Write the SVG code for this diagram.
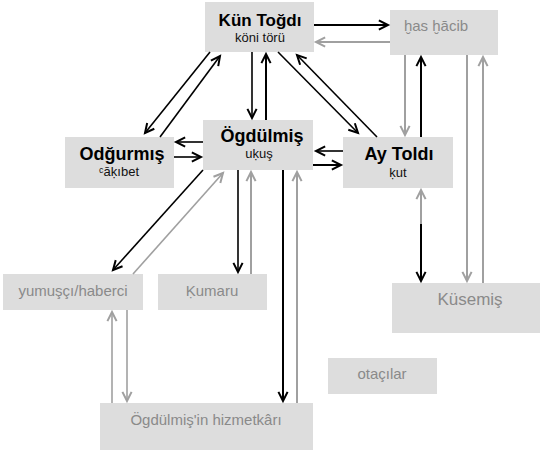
<svg xmlns="http://www.w3.org/2000/svg" width="540" height="450" viewBox="0 0 540 450">
<style>
.box{fill:#dddddd}
.t{font-family:"Liberation Sans",Arial,sans-serif;text-anchor:middle}
.b{font-weight:bold;font-size:18px;fill:#000}
.s{font-size:13px;fill:#111}
.g{font-size:15px;fill:#8a8a8a}
.k{stroke:#000;stroke-width:2;fill:none}
.gr{stroke:#a0a0a0;stroke-width:2;fill:none}
.k1{stroke:#000;stroke-width:1.6;fill:none}
.gr1{stroke:#a0a0a0;stroke-width:1.6;fill:none}
</style>
<defs>
<marker id="ak" viewBox="0 0 12 12" refX="11" refY="6" markerWidth="10" markerHeight="10" markerUnits="userSpaceOnUse" orient="auto" overflow="visible">
<path d="M0,0.5 L11,6 L0,11.5" fill="none" stroke="#000" stroke-width="2.4"/>
</marker>
<marker id="ag" viewBox="0 0 12 12" refX="11" refY="6" markerWidth="10" markerHeight="10" markerUnits="userSpaceOnUse" orient="auto" overflow="visible">
<path d="M0,0.5 L11,6 L0,11.5" fill="none" stroke="#a0a0a0" stroke-width="2.4"/>
</marker>
</defs>
<rect width="540" height="450" fill="#fff"/>
<g id="kun"><rect class="box" x="205" y="2" width="109" height="50"/><text class="t b" x="260" y="26" style="font-size:17px">Kün Toğdı</text><text class="t s" x="260" y="42">köni törü</text></g>
<g id="has"><rect class="box" x="390" y="10" width="108" height="45"/><text class="t g" x="436" y="31">ḫas ḫācib</text></g>
<g id="odg"><rect class="box" x="65" y="137" width="109" height="51"/><text class="t b" x="122" y="160">Odğurmış</text><text class="t s" x="119" y="176">ᶜāḳıbet</text></g>
<g id="ogd"><rect class="box" x="203" y="120" width="110" height="50"/><text class="t b" x="262" y="142">Ögdülmiş</text><text class="t s" x="259" y="158">uḳuş</text></g>
<g id="ay"><rect class="box" x="343" y="137" width="110" height="51"/><text class="t b" x="399" y="160">Ay Toldı</text><text class="t s" x="398" y="177">ḳut</text></g>
<g id="yum"><rect class="box" x="3" y="274" width="140" height="36"/><text class="t g" x="73" y="296">yumuşçı/haberci</text></g>
<g id="kum"><rect class="box" x="158" y="274" width="109" height="36"/><text class="t g" x="212" y="296">Ḳumaru</text></g>
<g id="kus"><rect class="box" x="392" y="283" width="148" height="50"/><text class="t g" x="470" y="305" style="font-size:17px">Küsemiş</text></g>
<g id="ota"><rect class="box" x="328" y="358" width="109" height="36"/><text class="t g" x="382" y="379">otaçılar</text></g>
<g id="hiz"><rect class="box" x="100" y="403" width="213" height="47"/><text class="t g" x="206" y="425">Ögdülmiş'in hizmetkârı</text></g>
<g id="connectors">
<line class="k" x1="314" y1="25" x2="388" y2="25" marker-end="url(#ak)"/>
<line class="gr" x1="390" y1="42" x2="316" y2="42" marker-end="url(#ag)"/>
<line class="gr" x1="405" y1="55" x2="405" y2="135" marker-end="url(#ag)"/>
<line class="k" x1="421" y1="137" x2="421" y2="57" marker-end="url(#ak)"/>
<line class="gr" x1="467" y1="55" x2="467" y2="281" marker-end="url(#ag)"/>
<line class="gr" x1="483" y1="283" x2="483" y2="57" marker-end="url(#ag)"/>
<line class="gr" x1="421" y1="230" x2="421" y2="190" marker-end="url(#ag)"/>
<line class="k" x1="421" y1="224" x2="421" y2="281" marker-end="url(#ak)"/>
<line class="k1" x1="252" y1="52" x2="252" y2="118" marker-end="url(#ak)"/>
<line class="k" x1="266" y1="120" x2="266" y2="54" marker-end="url(#ak)"/>
<line class="k1" x1="210" y1="52" x2="145" y2="133" marker-end="url(#ak)"/>
<line class="k1" x1="160" y1="137" x2="220" y2="56" marker-end="url(#ak)"/>
<line class="k1" x1="278" y1="52" x2="358" y2="133" marker-end="url(#ak)"/>
<line class="k1" x1="377" y1="137" x2="297" y2="55" marker-end="url(#ak)"/>
<line class="k1" x1="203" y1="142" x2="176" y2="142" marker-end="url(#ak)"/>
<line class="k1" x1="174" y1="157" x2="201" y2="157" marker-end="url(#ak)"/>
<line class="k1" x1="343" y1="151" x2="316" y2="151" marker-end="url(#ak)"/>
<line class="k" x1="313" y1="165" x2="341" y2="165" marker-end="url(#ak)"/>
<line class="k1" x1="203" y1="170" x2="113" y2="270" marker-end="url(#ak)"/>
<line class="gr1" x1="133" y1="274" x2="223" y2="173" marker-end="url(#ag)"/>
<line class="k1" x1="238" y1="170" x2="238" y2="272" marker-end="url(#ak)"/>
<line class="gr" x1="251" y1="274" x2="251" y2="172" marker-end="url(#ag)"/>
<line class="k" x1="283" y1="170" x2="283" y2="401" marker-end="url(#ak)"/>
<line class="gr" x1="297" y1="403" x2="297" y2="172" marker-end="url(#ag)"/>
<line class="gr1" x1="112" y1="403" x2="112" y2="312" marker-end="url(#ag)"/>
<line class="gr1" x1="127" y1="310" x2="127" y2="401" marker-end="url(#ag)"/>
</g>
</svg>
